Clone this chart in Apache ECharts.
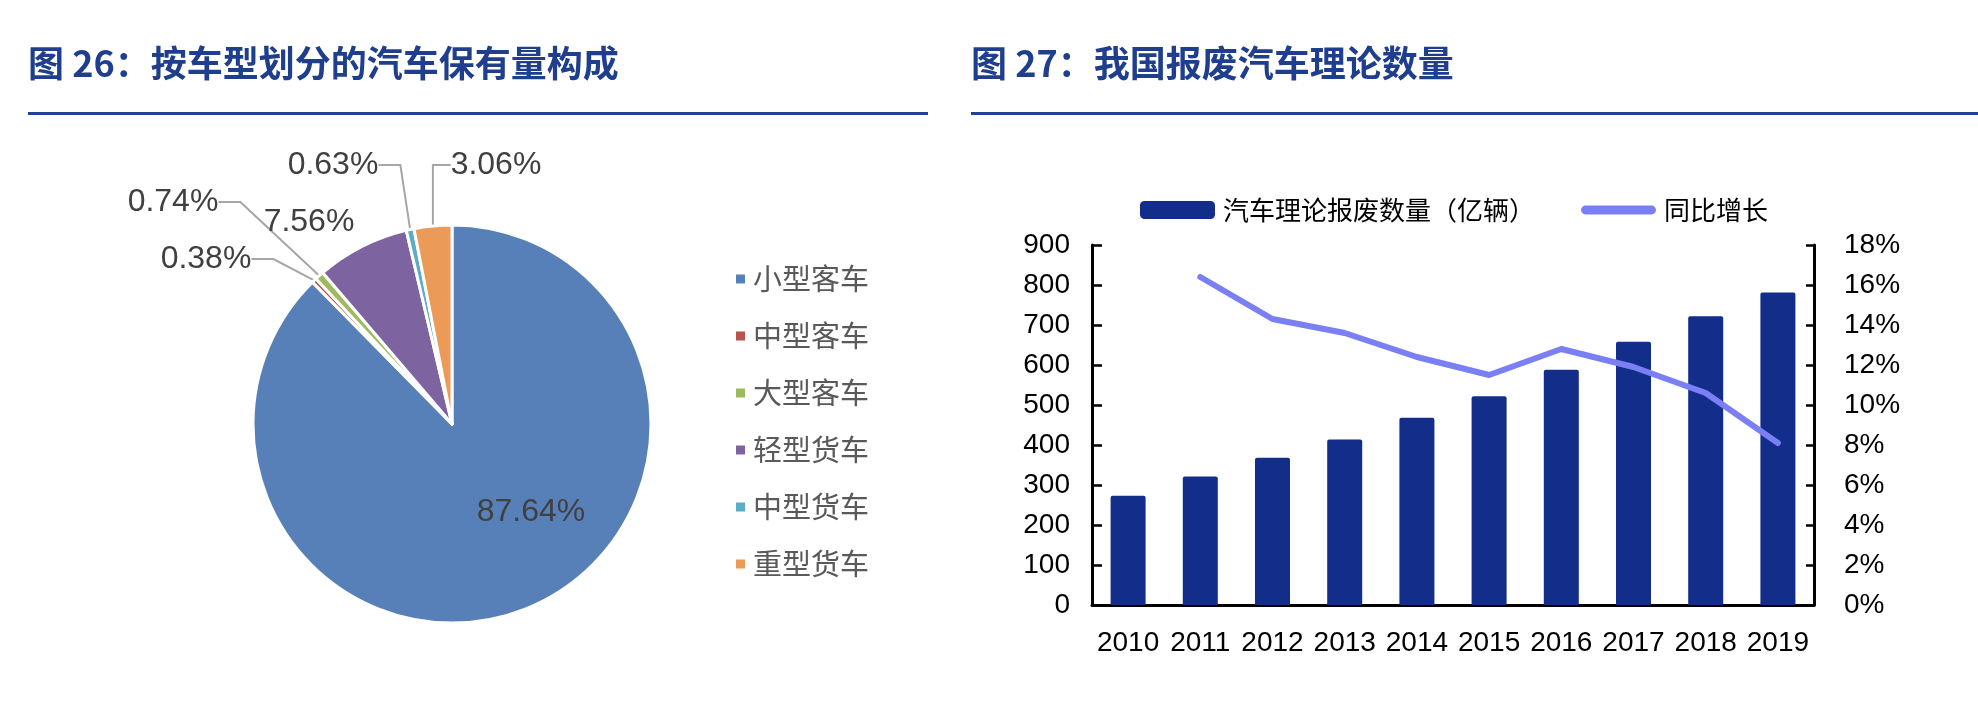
<!DOCTYPE html>
<html>
<head>
<meta charset="utf-8">
<script src="https://cdn.jsdelivr.net/npm/echarts@6/dist/echarts.min.js"></script>
<style>
html,body{margin:0;padding:0;background:#fff;}
#main{width:1978px;height:718px;}
</style>
</head>
<body>
<div id="main"></div>
<script>
// ---- data ----
const pieNames = ['小型客车', '中型客车', '大型客车', '轻型货车', '中型货车', '重型货车'];
const pieValues = [87.64, 0.38, 0.74, 7.56, 0.63, 3.06];
const pieColors = ['#5880B8', '#B8504C', '#9DBA5E', '#7D64A0', '#5BACC6', '#EB9A57'];

const years = ['2010', '2011', '2012', '2013', '2014', '2015', '2016', '2017', '2018', '2019'];
const scrapVolume = [273, 321, 368, 414, 468, 522, 588, 658, 722, 781];
const yoyGrowth = [null, 16.4, 14.3, 13.6, 12.4, 11.5, 12.8, 11.9, 10.6, 8.1];

const barName = '汽车理论报废数量（亿辆）';
const lineName = '同比增长';
const leftAxis = { min: 0, max: 900, interval: 100 };
const rightAxis = { min: 0, max: 18, interval: 2 };

const title1 = '图 26：按车型划分的汽车保有量构成';
const title2 = '图 27：我国报废汽车理论数量';

// label anchor spots for the pie labels (layout only)
const pieLabelSpots = [[531, 512], [206, 259], [173, 202], [309, 222], [333, 165], [496, 165]];

const chart = echarts.init(document.getElementById('main'));
const axisFont = { fontSize: 28, color: '#000', fontFamily: 'Liberation Sans, Arial, sans-serif' };
const titleStyle = { fontSize: 36, fontWeight: 'bold', color: '#1F3F8E', fontFamily: 'Noto Sans CJK SC, sans-serif' };

const option = {
  animation: false,
  color: pieColors,
  title: [
    { text: title1, left: 28, top: 45, padding: 0, textStyle: titleStyle },
    { text: title2, left: 971, top: 45, padding: 0, textStyle: titleStyle }
  ],
  graphic: [
    { type: 'rect', shape: { x: 28, y: 112, width: 900, height: 3 }, style: { fill: '#1F4591' } },
    { type: 'rect', shape: { x: 971, y: 112, width: 1007, height: 3 }, style: { fill: '#1F4591' } }
  ],
  legend: [
    {
      orient: 'vertical', left: 729, top: 259, itemWidth: 11, itemHeight: 11, itemGap: 27,
      icon: 'rect', data: pieNames,
      textStyle: { fontSize: 29, color: '#595959', lineHeight: 30, padding: [0, 0, 0, 2], fontFamily: 'Noto Sans CJK SC, sans-serif' }
    },
    {
      orient: 'horizontal', left: 1135, top: 192, itemWidth: 75, itemHeight: 18, itemGap: 46,
      data: [
        { name: barName, icon: 'roundRect' },
        { name: lineName, icon: 'path://M4,0L64,0A4,4,0,0,1,64,8L4,8A4,4,0,0,1,4,0Z' }
      ],
      textStyle: { fontSize: 26, color: '#000', lineHeight: 26, padding: [0, 0, 0, 3], fontFamily: 'Noto Sans CJK SC, sans-serif' }
    }
  ],
  grid: { left: 1092, right: 164, top: 245, bottom: 113, containLabel: false },
  xAxis: {
    type: 'category', data: years, boundaryGap: true,
    axisLine: { lineStyle: { color: '#000', width: 3 } },
    axisTick: { inside: true, length: 7, interval: 0, lineStyle: { color: '#000', width: 2.5 } },
    axisLabel: Object.assign({ margin: 24, interval: 0 }, axisFont)
  },
  yAxis: [
    {
      type: 'value', min: leftAxis.min, max: leftAxis.max, interval: leftAxis.interval,
      splitLine: { show: false },
      axisLine: { show: true, lineStyle: { color: '#000', width: 3 } },
      axisTick: { show: true, inside: true, length: 10, lineStyle: { color: '#000', width: 2.5 } },
      axisLabel: Object.assign({ margin: 22 }, axisFont)
    },
    {
      type: 'value', min: rightAxis.min, max: rightAxis.max, interval: rightAxis.interval,
      position: 'right',
      splitLine: { show: false },
      axisLine: { show: true, lineStyle: { color: '#000', width: 3 } },
      axisTick: { show: true, inside: true, length: 8, lineStyle: { color: '#000', width: 2.5 } },
      axisLabel: Object.assign({ margin: 30, formatter: '{value}%' }, axisFont)
    }
  ],
  series: [
    {
      type: 'pie', name: '车型构成',
      center: [452, 424], radius: 199, startAngle: 90, clockwise: true,
      avoidLabelOverlap: false,
      itemStyle: { borderColor: '#fff', borderWidth: 3 },
      label: {
        show: true, position: 'outside', fontSize: 32, color: '#404040',
        fontFamily: 'Liberation Sans, Arial, sans-serif',
        formatter: p => p.value.toFixed(2) + '%'
      },
      labelLine: { show: true, length: 10, length2: 22, lineStyle: { color: '#A6A6A6', width: 2 } },
      labelLayout: p => {
        const s = pieLabelSpots[p.dataIndex];
        return { x: s[0], y: s[1], align: 'center', verticalAlign: 'middle' };
      },
      emphasis: { disabled: true },
      data: pieNames.map((n, i) => {
        const d = { name: n, value: pieValues[i] };
        if (i === 0) { d.label = { position: 'inside' }; d.labelLine = { show: false }; }
        if (i === 3) { d.labelLine = { show: false }; }
        return d;
      })
    },
    {
      type: 'bar', name: barName, data: scrapVolume, yAxisIndex: 0,
      barWidth: 35,
      itemStyle: { color: '#122D8A', borderRadius: [2, 2, 0, 0] }
    },
    {
      type: 'line', name: lineName, data: yoyGrowth, yAxisIndex: 1,
      symbol: 'none', showSymbol: false, connectNulls: false, z: 5,
      itemStyle: { color: '#7A80F4' },
      lineStyle: { color: '#7A80F4', width: 6, cap: 'round', join: 'round' }
    }
  ]
};
chart.setOption(option);
</script>
</body>
</html>
